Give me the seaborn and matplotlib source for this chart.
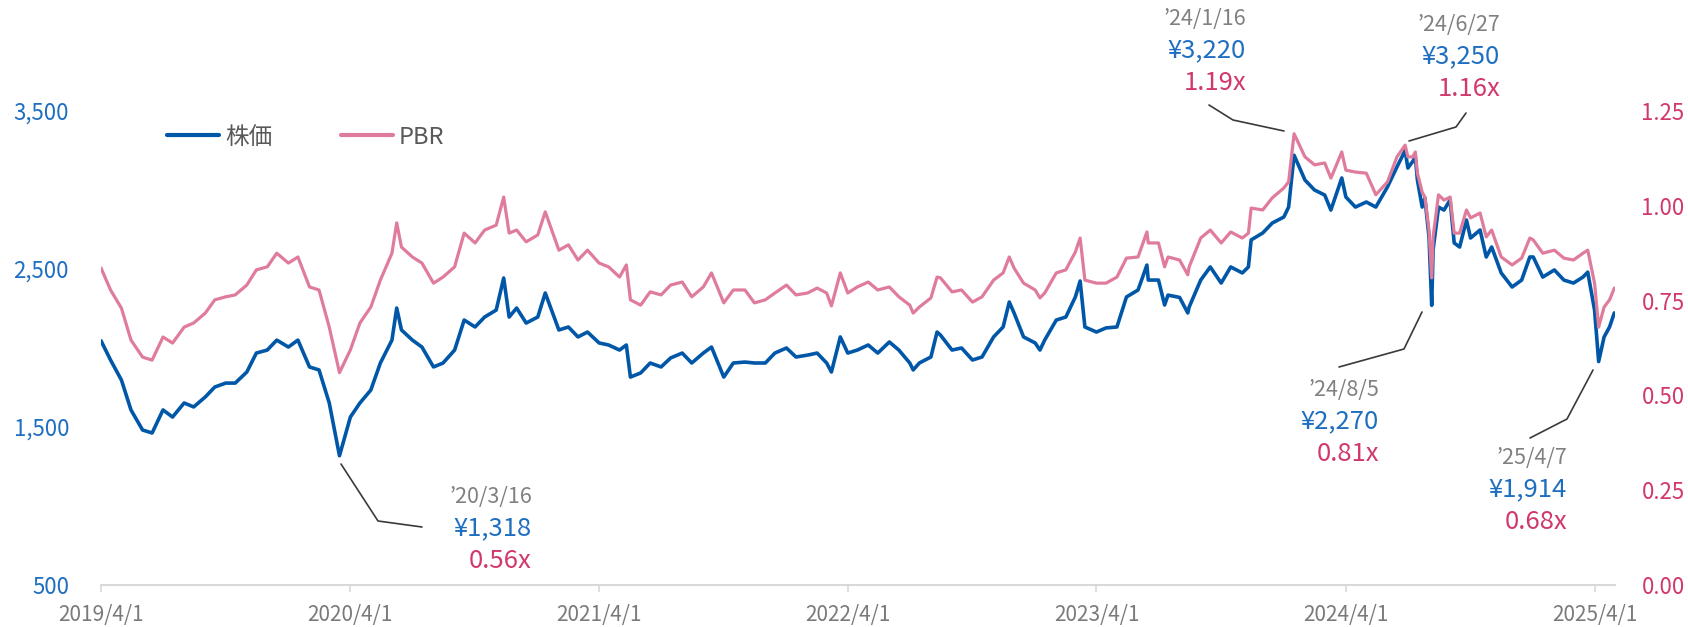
import pandas as pd
import matplotlib.pyplot as plt
import matplotlib.dates as mdates
from matplotlib.lines import Line2D
from matplotlib.ticker import FuncFormatter, FixedLocator
import seaborn as sns

# Data (roughly twice a month plus the turning points)
dates = [
    "2019-04-01", "2019-04-15", "2019-05-01", "2019-05-15", "2019-06-01", "2019-06-15",
    "2019-07-01", "2019-07-15", "2019-08-01", "2019-08-15", "2019-09-01", "2019-09-15",
    "2019-10-01", "2019-10-15", "2019-11-01", "2019-11-15", "2019-12-01", "2019-12-15",
    "2020-01-01", "2020-01-15", "2020-02-01", "2020-02-15", "2020-03-01", "2020-03-16",
    "2020-04-01", "2020-04-15", "2020-05-01", "2020-05-15", "2020-06-01", "2020-06-08",
    "2020-06-15", "2020-07-01", "2020-07-15", "2020-08-01", "2020-08-15", "2020-09-01",
    "2020-09-15", "2020-10-01", "2020-10-15", "2020-11-01", "2020-11-12", "2020-11-20",
    "2020-12-01", "2020-12-15", "2021-01-01", "2021-01-12", "2021-02-01", "2021-02-15",
    "2021-03-01", "2021-03-15", "2021-04-01", "2021-04-15", "2021-05-01", "2021-05-11",
    "2021-05-17", "2021-06-01", "2021-06-15", "2021-07-01", "2021-07-15", "2021-08-01",
    "2021-08-15", "2021-09-01", "2021-09-13", "2021-10-01", "2021-10-15", "2021-11-01",
    "2021-11-15", "2021-12-01", "2021-12-15", "2022-01-01", "2022-01-15", "2022-02-01",
    "2022-02-15", "2022-03-01", "2022-03-08", "2022-03-21", "2022-04-01", "2022-04-15",
    "2022-05-01", "2022-05-15", "2022-06-01", "2022-06-15", "2022-07-01", "2022-07-06",
    "2022-07-15", "2022-08-01", "2022-08-10", "2022-08-15", "2022-09-01", "2022-09-15",
    "2022-10-01", "2022-10-15", "2022-11-01", "2022-11-15", "2022-11-24", "2022-12-01",
    "2022-12-15", "2023-01-01", "2023-01-08", "2023-01-15", "2023-02-01", "2023-02-15",
    "2023-03-01", "2023-03-08", "2023-03-15", "2023-04-01", "2023-04-15", "2023-05-01",
    "2023-05-15", "2023-06-01", "2023-06-14", "2023-06-16", "2023-07-01", "2023-07-10",
    "2023-07-15", "2023-08-01", "2023-08-13", "2023-08-15", "2023-09-01", "2023-09-15",
    "2023-10-01", "2023-10-15", "2023-11-01", "2023-11-10", "2023-11-14", "2023-12-01",
    "2023-12-15", "2024-01-01", "2024-01-08", "2024-01-16", "2024-02-01", "2024-02-15",
    "2024-03-01", "2024-03-10", "2024-03-15", "2024-03-26", "2024-04-01", "2024-04-15",
    "2024-05-01", "2024-05-15", "2024-06-01", "2024-06-15", "2024-06-27", "2024-07-01",
    "2024-07-08", "2024-07-12", "2024-07-15", "2024-07-22", "2024-07-26", "2024-08-01",
    "2024-08-05", "2024-08-07", "2024-08-15", "2024-08-23", "2024-09-01", "2024-09-07",
    "2024-09-15", "2024-09-25", "2024-10-01", "2024-10-15", "2024-10-24", "2024-11-01",
    "2024-11-15", "2024-12-01", "2024-12-15", "2024-12-27", "2025-01-01", "2025-01-15",
    "2025-02-01", "2025-02-15", "2025-03-01", "2025-03-15", "2025-03-22", "2025-04-01",
    "2025-04-07", "2025-04-15", "2025-04-23", "2025-04-30",
]
price = [
    2046, 1924, 1797, 1608, 1481, 1462,
    1608, 1563, 1652, 1627, 1690, 1753,
    1778, 1778, 1848, 1968, 1987, 2050,
    2006, 2050, 1880, 1861, 1652, 1318,
    1563, 1652, 1734, 1905, 2050, 2253,
    2114, 2050, 2006, 1880, 1905, 1987,
    2177, 2133, 2196, 2240, 2443, 2196,
    2253, 2158, 2196, 2348, 2114, 2133,
    2070, 2101, 2032, 2019, 1987, 2019,
    1816, 1842, 1905, 1880, 1937, 1968,
    1905, 1968, 2006, 1816, 1905, 1911,
    1905, 1905, 1968, 2000, 1943, 1955,
    1968, 1905, 1848, 2070, 1968, 1987,
    2019, 1968, 2038, 1987, 1905, 1861,
    1905, 1943, 2101, 2082, 1987, 2000,
    1924, 1943, 2070, 2133, 2291, 2222,
    2070, 2032, 1987, 2050, 2177, 2196,
    2323, 2424, 2133, 2101, 2127, 2133,
    2323, 2367, 2525, 2430, 2430, 2272,
    2335, 2320, 2222, 2259, 2430, 2513,
    2411, 2513, 2475, 2513, 2684, 2728,
    2791, 2829, 2892, 3220, 3063, 3000,
    2968, 2873, 2937, 3076, 2956, 2892,
    2924, 2892, 3019, 3146, 3250, 3139,
    3180, 3209, 3063, 2892, 2949, 2703,
    2270, 2620, 2892, 2873, 2937, 2665,
    2639, 2810, 2696, 2747, 2576, 2639,
    2475, 2386, 2430, 2576, 2576, 2449,
    2494, 2430, 2411, 2449, 2480, 2240,
    1914, 2070, 2133, 2222,
]
pbr = [
    0.836, 0.778, 0.730, 0.646, 0.601, 0.593,
    0.654, 0.638, 0.680, 0.691, 0.717, 0.752,
    0.760, 0.765, 0.791, 0.831, 0.839, 0.875,
    0.849, 0.865, 0.786, 0.778, 0.680, 0.560,
    0.620, 0.691, 0.733, 0.804, 0.875, 0.955,
    0.891, 0.865, 0.849, 0.796, 0.812, 0.839,
    0.928, 0.902, 0.936, 0.949, 1.023, 0.928,
    0.936, 0.905, 0.923, 0.984, 0.883, 0.897,
    0.857, 0.883, 0.849, 0.839, 0.812, 0.844,
    0.752, 0.738, 0.773, 0.765, 0.791, 0.799,
    0.760, 0.786, 0.823, 0.744, 0.778, 0.778,
    0.744, 0.752, 0.770, 0.791, 0.765, 0.770,
    0.783, 0.770, 0.736, 0.823, 0.770, 0.786,
    0.799, 0.778, 0.786, 0.760, 0.738, 0.717,
    0.733, 0.757, 0.812, 0.810, 0.773, 0.778,
    0.746, 0.760, 0.804, 0.823, 0.865, 0.836,
    0.796, 0.778, 0.757, 0.770, 0.823, 0.831,
    0.878, 0.915, 0.804, 0.796, 0.796, 0.812,
    0.862, 0.865, 0.931, 0.902, 0.902, 0.839,
    0.865, 0.857, 0.818, 0.839, 0.915, 0.936,
    0.902, 0.931, 0.915, 0.928, 0.994, 0.989,
    1.021, 1.047, 1.063, 1.190, 1.129, 1.108,
    1.113, 1.073, 1.094, 1.142, 1.094, 1.089,
    1.086, 1.029, 1.063, 1.129, 1.160, 1.129,
    1.129, 1.142, 1.086, 1.036, 1.023, 0.936,
    0.810, 0.918, 1.029, 1.015, 1.023, 0.928,
    0.928, 0.989, 0.968, 0.981, 0.918, 0.936,
    0.865, 0.844, 0.862, 0.915, 0.910, 0.875,
    0.883, 0.862, 0.857, 0.875, 0.883, 0.796,
    0.680, 0.733, 0.752, 0.783,
]

tick_dates = ["2019-04-01", "2020-04-01", "2021-04-01", "2022-04-01",
              "2023-04-01", "2024-04-01", "2025-04-01"]
tick_labels = ["2019/4/1", "2020/4/1", "2021/4/1", "2022/4/1",
               "2023/4/1", "2024/4/1", "2025/4/1"]
price_ticks = [500, 1500, 2500, 3500]
pbr_ticks = [0.00, 0.25, 0.50, 0.75, 1.00, 1.25]

# callouts: date, price, pbr
notes = [
    ("’20/3/16", "¥1,318", "0.56x"),
    ("’24/1/16", "¥3,220", "1.19x"),
    ("’24/6/27", "¥3,250", "1.16x"),
    ("’24/8/5", "¥2,270", "0.81x"),
    ("’25/4/7", "¥1,914", "0.68x"),
]

df = pd.DataFrame({"date": pd.to_datetime(dates), "price": price, "pbr": pbr})

BLUE = "#0057a8"
PINK = "#e07c9b"
BLUE_TXT = "#1f6fc0"
PINK_TXT = "#d1386c"
GRAY_TXT = "#808080"
W, H = 1688, 627

sns.set_theme(style="white")
plt.rcParams["font.family"] = ["Noto Sans CJK JP", "DejaVu Sans"]

fig = plt.figure(figsize=(W / 100, H / 100), dpi=100)
ax = fig.add_axes([101 / W, 42 / H, 1514 / W, 521.4 / H])
ax2 = ax.twinx()

sns.lineplot(data=df, x="date", y="price", ax=ax, color=BLUE, lw=2.6,
             estimator=None, legend=False)
sns.lineplot(data=df, x="date", y="pbr", ax=ax2, color=PINK, lw=2.3,
             estimator=None, legend=False)

ax.set_xlim(pd.Timestamp("2019-04-01"), pd.Timestamp("2025-05-01"))
ax.set_ylim(500, 3800)
ax2.set_ylim(0, 1.375)
for a in (ax, ax2):
    a.set_xlabel("")
    a.set_ylabel("")
    for s in ("top", "left", "right"):
        a.spines[s].set_visible(False)
ax2.spines["bottom"].set_visible(False)
ax.spines["bottom"].set_color("#d9d9d9")
ax.spines["bottom"].set_linewidth(1.5)

ax.xaxis.set_major_locator(FixedLocator(mdates.date2num(pd.to_datetime(tick_dates))))
ax.set_xticklabels(tick_labels)
ax.tick_params(axis="x", bottom=True, length=5, width=1.2, color="#d9d9d9",
               pad=9, labelsize=15, labelcolor="#7a7a7a")

ax.set_yticks(price_ticks)
ax.yaxis.set_major_formatter(FuncFormatter(lambda v, p: f"{v:,.0f}"))
ax.tick_params(axis="y", left=False, length=0, pad=23, labelsize=16,
               labelcolor=BLUE_TXT)
ax2.set_yticks(pbr_ticks)
ax2.yaxis.set_major_formatter(FuncFormatter(lambda v, p: f"{v:.2f}"))
ax2.tick_params(axis="y", right=False, length=0, pad=19, labelsize=16,
                labelcolor=PINK_TXT)
ax.grid(False)
ax2.grid(False)

handles = [Line2D([], [], color=BLUE, lw=3), Line2D([], [], color=PINK, lw=3)]
ax2.legend(handles, ["株価", "PBR"], loc="center left",
           bbox_to_anchor=(0.0436, 0.859), frameon=False, fontsize=17,
           handlelength=2.2, handletextpad=0.25, columnspacing=2.9, ncol=2,
           borderaxespad=0, borderpad=0, labelcolor="#595959")


def fx(x, y):
    return x / W, 1 - y / H


# text anchor (right edge, first line centre) and leader line points, in pixels
note_pos = [(532, 497), (1246, 19), (1500, 25), (1379, 390), (1567, 458)]
leaders = [
    [(341, 464), (378, 521), (422, 527)],
    [(1209, 105), (1233, 120), (1284, 131)],
    [(1466, 113), (1456, 127), (1409, 141)],
    [(1422, 312), (1404, 349), (1339, 367)],
    [(1593, 370), (1567, 419), (1530, 438)],
]

for (d, p, r), (x, y), pts in zip(notes, note_pos, leaders):
    fig.text(*fx(x, y), d, ha="right", va="center", fontsize=15.5, color=GRAY_TXT)
    fig.text(*fx(x, y + 31.5), p, ha="right", va="center", fontsize=18.5, color=BLUE_TXT)
    fig.text(*fx(x, y + 64), r, ha="right", va="center", fontsize=18.5, color=PINK_TXT)
    xs = [fx(a, b)[0] for a, b in pts]
    ys = [fx(a, b)[1] for a, b in pts]
    fig.add_artist(Line2D(xs, ys, transform=fig.transFigure, color="#3a3a3a", lw=1.2))

fig.savefig("out.png", dpi=100)
